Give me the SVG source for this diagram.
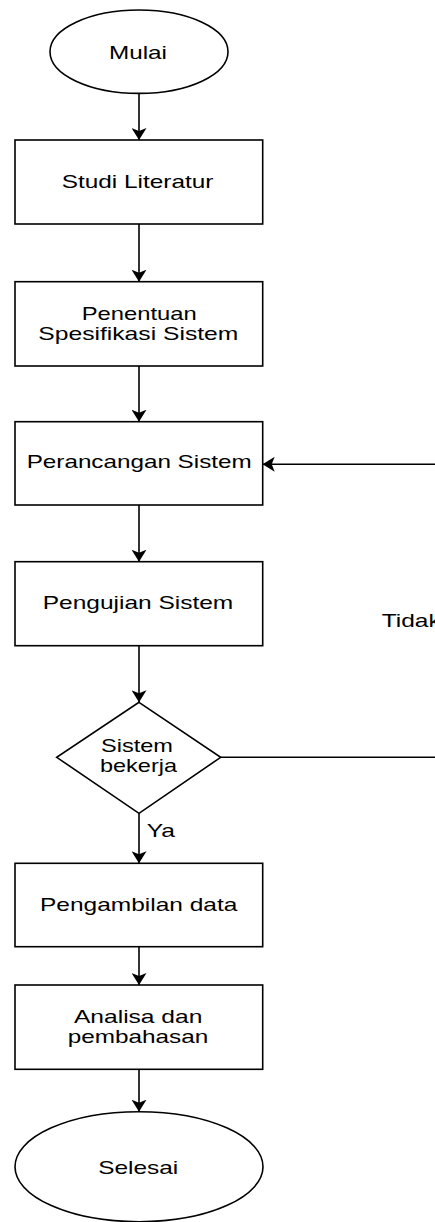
<svg xmlns="http://www.w3.org/2000/svg" width="435" height="1222" viewBox="0 0 435 1222">
<style>
.shape{fill:#fff;stroke:#000;stroke-width:1.6}
.edge{fill:none;stroke:#000;stroke-width:1.6}
.t{font-family:"Liberation Sans",Arial,sans-serif;font-size:18.5px;fill:#000}
</style>
<defs>
<marker id="arr" markerUnits="userSpaceOnUse" viewBox="0 0 12 15" refX="12" refY="7.5" markerWidth="12" markerHeight="15" orient="auto">
<path d="M0,0 L12,7.5 L0,15 L3,7.5 Z" fill="#000"/>
</marker>
</defs>
<rect width="435" height="1222" fill="#fff"/>
<g id="connectors">
<line class="edge" x1="139" y1="93.3" x2="139" y2="140" marker-end="url(#arr)"/>
<line class="edge" x1="139" y1="224" x2="139" y2="281.7" marker-end="url(#arr)"/>
<line class="edge" x1="139" y1="366" x2="139" y2="421.7" marker-end="url(#arr)"/>
<line class="edge" x1="139" y1="505" x2="139" y2="561.7" marker-end="url(#arr)"/>
<line class="edge" x1="139" y1="645.7" x2="139" y2="702.3" marker-end="url(#arr)"/>
<line class="edge" x1="139" y1="813.3" x2="139" y2="863.3" marker-end="url(#arr)"/>
<line class="edge" x1="139" y1="946.7" x2="139" y2="985" marker-end="url(#arr)"/>
<line class="edge" x1="139" y1="1069.3" x2="139" y2="1111.7" marker-end="url(#arr)"/>
<path class="edge" d="M220.7,757.3 L460,757.3 L460,464.3 L262.7,464.3" marker-end="url(#arr)"/>
<text class="t" x="146.7" y="837.3" textLength="28.3" lengthAdjust="spacingAndGlyphs">Ya</text>
<text class="t" x="381.7" y="626.7" textLength="59" lengthAdjust="spacingAndGlyphs">Tidak</text>
</g>
<g id="mulai">
<ellipse class="shape" cx="139" cy="51.7" rx="89" ry="41.7"/>
<text class="t" x="109" y="59.3" textLength="58" lengthAdjust="spacingAndGlyphs">Mulai</text>
</g>
<g id="studi">
<rect class="shape" x="15" y="140" width="247.7" height="84"/>
<text class="t" x="61.7" y="188.3" textLength="151.7" lengthAdjust="spacingAndGlyphs">Studi Literatur</text>
</g>
<g id="penentuan">
<rect class="shape" x="15" y="281.7" width="247.7" height="84.3"/>
<text class="t" x="81.7" y="320" textLength="115" lengthAdjust="spacingAndGlyphs">Penentuan</text>
<text class="t" x="38.3" y="340" textLength="200" lengthAdjust="spacingAndGlyphs">Spesifikasi Sistem</text>
</g>
<g id="perancangan">
<rect class="shape" x="15" y="421.7" width="247.7" height="83.3"/>
<text class="t" x="26.7" y="468.3" textLength="225" lengthAdjust="spacingAndGlyphs">Perancangan Sistem</text>
</g>
<g id="pengujian">
<rect class="shape" x="15" y="561.7" width="247.7" height="84"/>
<text class="t" x="42.7" y="609.3" textLength="190.6" lengthAdjust="spacingAndGlyphs">Pengujian Sistem</text>
</g>
<g id="keputusan">
<polygon class="shape" points="139,702.3 220.7,757.3 139,813.3 56.7,757.3"/>
<text class="t" x="101" y="751.7" textLength="72" lengthAdjust="spacingAndGlyphs">Sistem</text>
<text class="t" x="100" y="771.7" textLength="77" lengthAdjust="spacingAndGlyphs">bekerja</text>
</g>
<g id="pengambilan">
<rect class="shape" x="15" y="863.3" width="247.7" height="83.4"/>
<text class="t" x="40" y="910.7" textLength="197.3" lengthAdjust="spacingAndGlyphs">Pengambilan data</text>
</g>
<g id="analisa">
<rect class="shape" x="15" y="985" width="247.7" height="84.3"/>
<text class="t" x="74" y="1022.7" textLength="128.3" lengthAdjust="spacingAndGlyphs">Analisa dan</text>
<text class="t" x="67.7" y="1042.7" textLength="140.6" lengthAdjust="spacingAndGlyphs">pembahasan</text>
</g>
<g id="selesai">
<ellipse class="shape" cx="139" cy="1166.7" rx="124" ry="55"/>
<text class="t" x="98.3" y="1174" textLength="80" lengthAdjust="spacingAndGlyphs">Selesai</text>
</g>
</svg>
